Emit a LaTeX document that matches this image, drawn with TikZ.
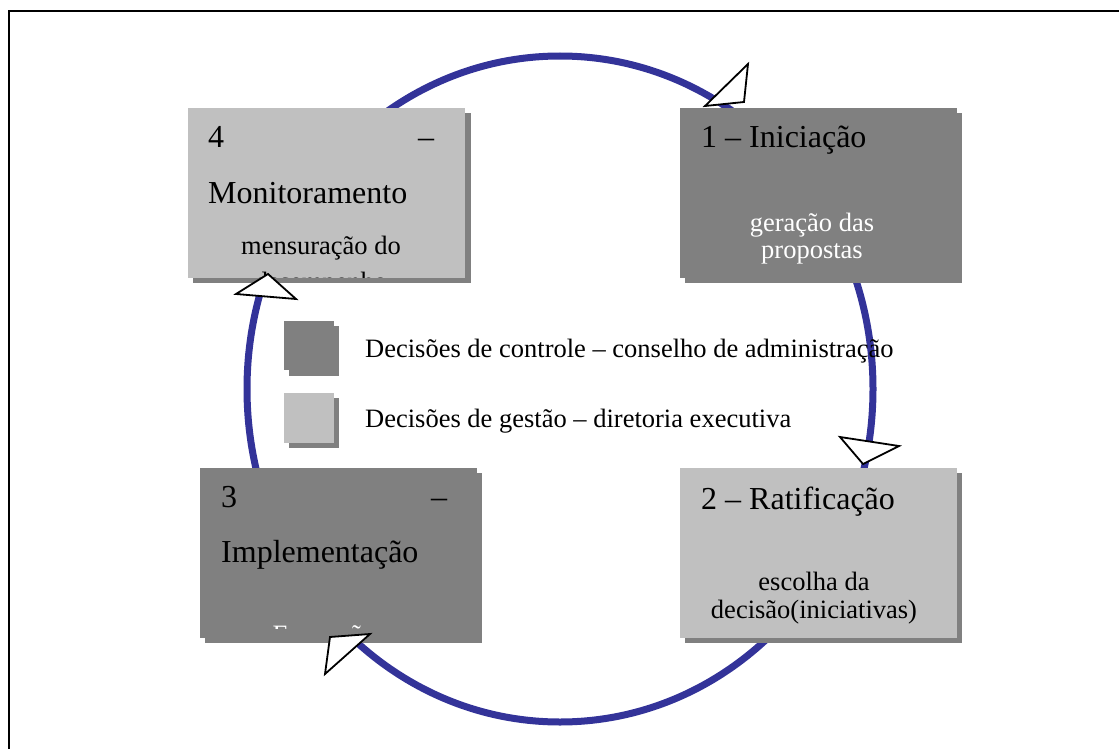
\documentclass[tikz,border=0pt]{standalone}
\usepackage{fontspec}
\setmainfont{Liberation Serif}
\definecolor{lightbox}{RGB}{192,192,192}
\definecolor{darkbox}{RGB}{128,128,128}
\definecolor{cycleblue}{RGB}{51,51,153}
\begin{document}
\begin{tikzpicture}[x=1pt,y=-1pt,
  panel/.style={inner sep=0pt, anchor=north west, minimum width=#1},
  lightpanel/.style={panel=277pt, fill=lightbox, minimum height=170pt},
  darkpanel/.style={panel=277pt, fill=darkbox, minimum height=170pt},
  shadowbox/.style={fill=darkbox},
  title/.style={inner sep=0pt, anchor=base west, font=\fontsize{32}{38}\selectfont},
  sub/.style={inner sep=0pt, anchor=base, font=\fontsize{26.5}{28}\selectfont},
  legendtext/.style={inner sep=0pt, anchor=base west, font=\fontsize{26.5}{28}\selectfont},
  tri/.style={fill=white, draw=black, line width=1.8pt, line join=miter},
  trishadow/.style={fill=darkbox, shift={(4,3)}}]
\useasboundingbox (0,0) rectangle (1119,749);
% frame
\coordinate (ftl) at (9,11);
\coordinate (ftr) at (1119,11);
\coordinate (fbl) at (9,749);
\draw[line width=2pt, black] (ftr) -- (ftl) -- (fbl);
% cycle
\draw[cycleblue, line width=7pt] (560,389) ellipse [x radius=313, y radius=333];
% box 4
\fill[shadowbox] (193,113) rectangle (471,283);
\node[lightpanel] (b4) at (188,108) {};
\node[title] (t4a) at (208,148) {\makebox[226pt]{4\hfill –}};
\node[title] (t4b) at (208,203) {Monitoramento};
\node[sub] (s4a) at (321,254) {mensuração do};
\begin{scope}
\clip (188,108) rectangle (465,277);
\node[sub] (s4b) at (321,290) {desempenho};
\end{scope}
% box 1
\fill[shadowbox] (685,113) rectangle (962,283);
\node[darkpanel] (b1) at (680,108) {};
\node[title] (t1) at (701,148) {1 – Iniciação};
\node[sub, white] (s1a) at (812,231) {geração das};
\node[sub, white] (s1b) at (812,258) {propostas};
% box 3
\fill[shadowbox] (205,473) rectangle (482,643);
\node[darkpanel] (b3) at (200,468) {};
\node[title] (t3a) at (221,507) {\makebox[226pt]{3\hfill –}};
\node[title] (t3b) at (221,562) {Implementação};
\begin{scope}
\clip (200,468) rectangle (477,628);
\node[sub, white] (s3) at (324,643) {Execução};
\end{scope}
% box 2
\fill[shadowbox] (685,473) rectangle (962,643);
\node[lightpanel] (b2) at (680,468) {};
\node[title] (t2) at (701,509) {2 – Ratificação};
\node[sub] (s2a) at (814,590) {escolha da};
\node[sub] (s2b) at (814,618) {decisão(iniciativas)};
% legend
\fill[shadowbox] (289,326) rectangle (339,376);
\node[inner sep=0pt, anchor=north west, fill=darkbox, minimum width=50pt, minimum height=49pt] (ld) at (284,321) {};
\fill[shadowbox] (289,398) rectangle (339,448);
\node[inner sep=0pt, anchor=north west, fill=lightbox, minimum width=50pt, minimum height=50pt] (ll) at (284,393) {};
\node[legendtext] (ltd) at (365,357) {Decisões de controle – conselho de administração};
\node[legendtext] (ltl) at (365,427) {Decisões de gestão – diretoria executiva};
% arrowheads
\coordinate (a1a) at (705,106); \coordinate (a1b) at (748,64); \coordinate (a1c) at (744,102);
\coordinate (a2a) at (840,437); \coordinate (a2b) at (899,446); \coordinate (a2c) at (863,464);
\coordinate (a3a) at (330,637); \coordinate (a3b) at (370,634); \coordinate (a3c) at (325,674);
\coordinate (a4a) at (236,294); \coordinate (a4b) at (268,274); \coordinate (a4c) at (296,299);
\foreach \t in {a1,a2,a3,a4}{
  \fill[trishadow] (\t a) -- (\t b) -- (\t c) -- cycle;
  \draw[tri] (\t a) -- (\t b) -- (\t c) -- cycle;
}
\end{tikzpicture}
\end{document}
